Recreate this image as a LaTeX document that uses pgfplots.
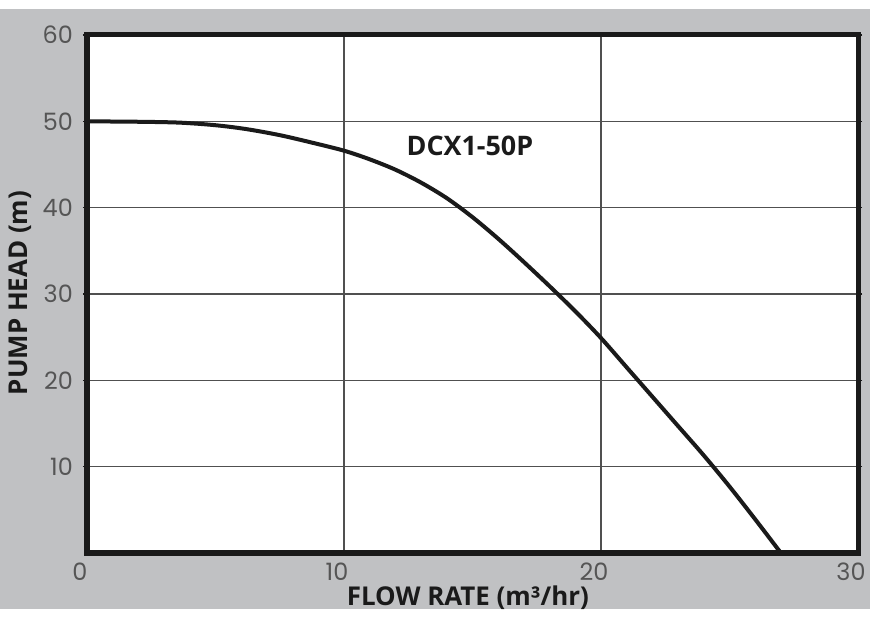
\documentclass[border=0pt]{standalone}
\usepackage{fontspec}
\setmainfont{Poppins}
\newfontfamily\labelfont{Open Sans}
\usepackage{pgfplots}
\pgfplotsset{compat=1.18}

\definecolor{bggray}{HTML}{C0C1C3}
\definecolor{framecol}{HTML}{1A1A1A}
\definecolor{gridcol}{HTML}{505050}
\definecolor{tickcol}{HTML}{555555}

\begin{document}
\begin{tikzpicture}
\path[use as bounding box] (0bp,0bp) rectangle (870bp,619bp);
\fill[bggray] (0bp,10bp) rectangle (870bp,610bp);
\begin{axis}[
    at={(87bp,66bp)}, anchor=south west,
    scale only axis,
    width=771bp, height=518bp,
    xmin=0, xmax=30,
    ymin=0, ymax=60,
    xtick={0,10,20,30},
    ytick={10,20,30,40,50,60},
    grid=major,
    major grid style={gridcol, line width=1.2bp},
    axis line style={framecol, line width=5bp},
    axis background/.style={fill=white},
    tick align=outside,
    major tick length=4bp,
    xtick style={draw=none},
    ytick style={framecol, line width=1.2bp},
    /pgf/number format/assume math mode=true,
    tick label style={font=\fontsize{24}{24}\selectfont, text=tickcol},
    xticklabel style={xshift=-7bp, yshift=-2bp},
    yticklabel style={anchor=east, inner sep=0pt, xshift=-10bp},
    xlabel={FLOW RATE (m³/hr)},
    ylabel={PUMP HEAD (m)},
    label style={font=\labelfont\bfseries\fontsize{26}{26}\selectfont, text=framecol},
    xlabel style={at={(axis description cs:0.494,-0.086)}, anchor=center},
    ylabel style={at={(axis description cs:-0.087,0.502)}, anchor=center},
]

% pump curve
\addplot[framecol, line width=4bp, smooth] coordinates {
    (0, 50)
    (2, 49.95)
    (3.6, 49.85)
    (5, 49.55)
    (6.2, 49.1)
    (7.5, 48.4)
    (8.8, 47.5)
    (10, 46.6)
    (11, 45.6)
    (12, 44.4)
    (13, 42.9)
    (14, 41.1)
    (15, 38.9)
    (16, 36.4)
    (17, 33.7)
    (18, 30.9)
    (19, 28.0)
    (20, 24.9)
    (21, 21.5)
    (22, 18.1)
    (23, 14.7)
    (24, 11.3)
    (25, 7.7)
    (26, 3.9)
    (27, 0)
};

\node[font=\labelfont\bfseries\fontsize{27}{27}\selectfont, text=framecol]
    at (axis cs:14.9,47.1) {DCX1-50P};

\end{axis}
\end{tikzpicture}
\end{document}
